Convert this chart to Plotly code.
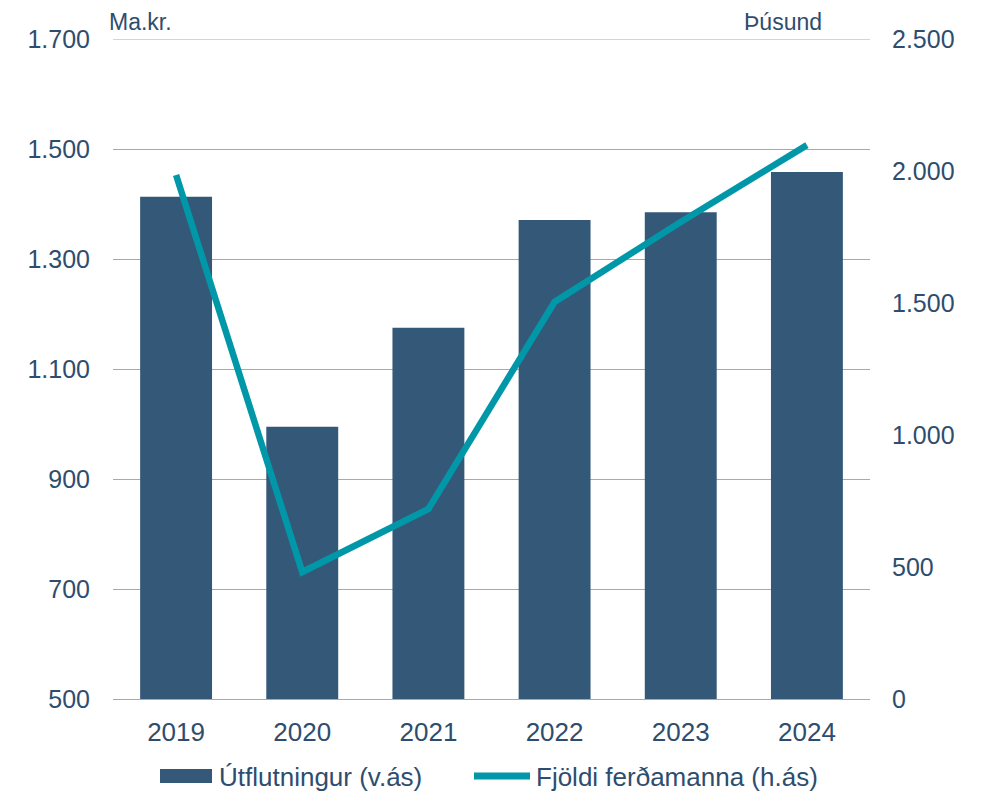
import plotly.graph_objects as go

years = ["2019", "2020", "2021", "2022", "2023", "2024"]
exports = [1413, 995, 1175, 1371, 1385, 1458]          # Ma.kr. (left axis)
tourists = [1985, 481, 720, 1504, 1807, 2098]          # Þúsund (right axis)

left_ticks = [500, 700, 900, 1100, 1300, 1500, 1700]
right_ticks = [0, 500, 1000, 1500, 2000, 2500]

BAR = "#345878"
LINE = "#0098A8"
TXT = "#2E4D6E"
GRID = "#A3AAB6"
FONT = "Liberation Sans, Arial, sans-serif"

# figure geometry (page has an 8px body margin)
W, H = 968, 787
L, R, T, B = 105, 106, 31, 96
PW, PH = W - L - R, H - T - B


def px(xf):
    return (xf - L) / PW


def py(yf):
    return (H - B - yf) / PH


fig = go.Figure()
fig.add_trace(go.Bar(x=years, y=exports, name="Útflutningur (v.ás)",
                     marker=dict(color=BAR, line=dict(width=0)), yaxis="y",
                     showlegend=False))
fig.add_trace(go.Scatter(x=years, y=tourists, name="Fjöldi ferðamanna (h.ás)",
                         mode="lines", line=dict(color=LINE, width=6.5), yaxis="y2",
                         showlegend=False))

shapes = [
    # top gridline
    dict(type="line", xref="paper", yref="y", x0=0, x1=1,
         y0=left_ticks[-1], y1=left_ticks[-1], line=dict(color=GRID, width=1), layer="below"),
    # legend swatches
    dict(type="rect", xref="paper", yref="paper", x0=px(152), x1=px(204),
         y0=py(775), y1=py(761), fillcolor=BAR, line=dict(width=0)),
    dict(type="line", xref="paper", yref="paper", x0=px(466), x1=px(522),
         y0=py(768), y1=py(768), line=dict(color=LINE, width=7)),
]

annotations = [
    dict(text="Ma.kr.", xref="paper", yref="paper", x=0, y=1.0, xshift=-6,
         xanchor="left", yanchor="bottom", yshift=2, showarrow=False,
         font=dict(size=23, color=TXT, family=FONT)),
    dict(text="Þúsund", xref="paper", yref="paper", x=1, y=1.0, xshift=-46,
         xanchor="right", yanchor="bottom", yshift=2, showarrow=False,
         font=dict(size=23, color=TXT, family=FONT)),
    dict(text="Útflutningur (v.ás)", xref="paper", yref="paper", x=px(209), y=py(769),
         xanchor="left", yanchor="middle", showarrow=False,
         font=dict(size=26, color=TXT, family=FONT)),
    dict(text="Fjöldi ferðamanna (h.ás)", xref="paper", yref="paper", x=px(526), y=py(769),
         xanchor="left", yanchor="middle", showarrow=False,
         font=dict(size=26, color=TXT, family=FONT)),
]

fig.update_layout(
    width=W, height=H,
    margin=dict(l=L, r=R, t=T, b=B),
    paper_bgcolor="white", plot_bgcolor="white",
    separators=",.",
    font=dict(family=FONT, color=TXT, size=25),
    bargap=0.43,
    showlegend=False,
    xaxis=dict(type="category", showline=True, linecolor=GRID, linewidth=1,
               showgrid=False, ticks="", tickfont=dict(size=26, color=TXT),
               ticklabelstandoff=10),
    yaxis=dict(range=[500, 1700], tickvals=left_ticks, tickformat=",d",
               showgrid=True, gridcolor=GRID, gridwidth=1, zeroline=False,
               ticks="", tickfont=dict(size=25, color=TXT), ticklabelstandoff=22),
    yaxis2=dict(range=[0, 2500], tickvals=right_ticks, tickformat=",d",
                overlaying="y", side="right", showgrid=False, zeroline=False,
                ticks="", tickfont=dict(size=25, color=TXT), ticklabelstandoff=21),
    shapes=shapes,
    annotations=annotations,
)

fig.write_html("out.html")
